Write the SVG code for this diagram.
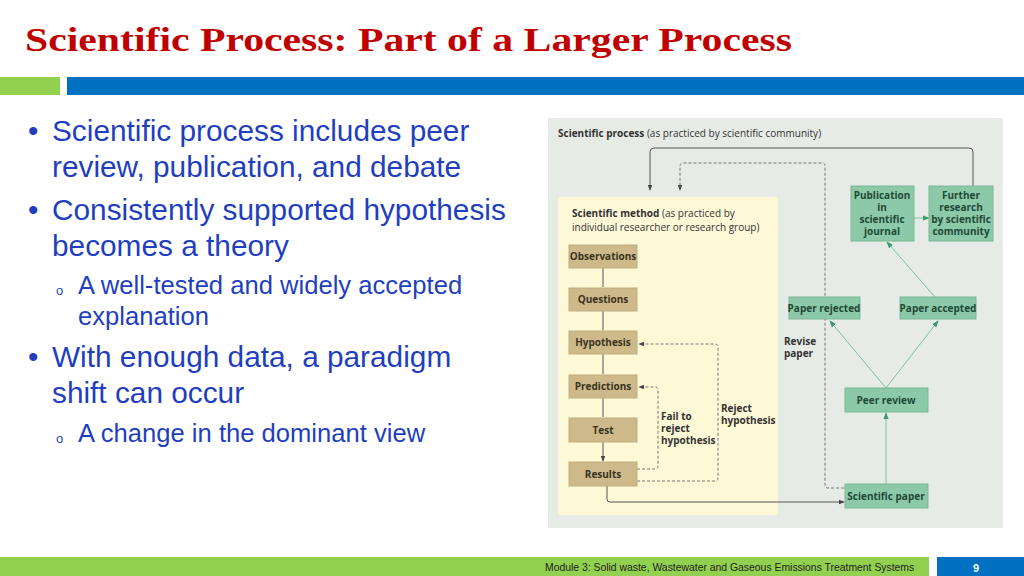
<svg xmlns="http://www.w3.org/2000/svg" width="1024" height="576" viewBox="0 0 1024 576">
<defs>
<style>
.b{font-family:"Liberation Sans",Arial,sans-serif;fill:#1f3fbf;font-size:29.8px}
.s{font-family:"Liberation Sans",Arial,sans-serif;fill:#1f3fbf;font-size:25.6px}
.o{font-family:"Liberation Sans",Arial,sans-serif;fill:#1f3fbf;font-size:13px}
.f{font-family:"Open Sans","Liberation Sans",sans-serif;font-size:10px;fill:#333}
.fb{font-family:"Open Sans","Liberation Sans",sans-serif;font-size:10px;fill:#333;font-weight:bold}
.tan{fill:#cdb98a;stroke:#bfae80}
.grn{fill:#8cc9a8;stroke:#7ab897}
.tl{font-family:"Open Sans","Liberation Sans",sans-serif;font-size:10px;font-weight:bold;fill:#3a3320;text-anchor:middle}
.gl{font-family:"Open Sans","Liberation Sans",sans-serif;font-size:10px;font-weight:bold;fill:#1f4a36;text-anchor:middle}
.k{fill:none;stroke:#555;stroke-width:1}
.d{fill:none;stroke:#777;stroke-width:1;stroke-dasharray:3,2}
.g{fill:none;stroke:#7cc0a0;stroke-width:1}
</style>
<marker id="a" viewBox="0 0 8 8" refX="7" refY="4" markerWidth="6" markerHeight="6" orient="auto" markerUnits="userSpaceOnUse"><path d="M0,1 L8,4 L0,7z" fill="#444"/></marker>
<marker id="ag" viewBox="0 0 8 8" refX="7" refY="4" markerWidth="7" markerHeight="7" orient="auto" markerUnits="userSpaceOnUse"><path d="M0,1 L8,4 L0,7z" fill="#3a9a6e"/></marker>
</defs>
<rect width="1024" height="576" fill="#fff"/>
<text x="25" y="51" font-family="Liberation Serif,serif" font-weight="bold" font-size="33" fill="#c00000" textLength="767" lengthAdjust="spacingAndGlyphs">Scientific Process: Part of a Larger Process</text>
<rect x="0" y="77" width="60" height="18" fill="#92d050"/>
<rect x="67" y="77" width="957" height="18" fill="#0070c0"/>
<g id="bullets">
<text class="b" x="28" y="141">•</text><text class="b" x="52" y="141">Scientific process includes peer</text>
<text class="b" x="52" y="177">review, publication, and debate</text>
<text class="b" x="28" y="220">•</text><text class="b" x="52" y="220">Consistently supported hypothesis</text>
<text class="b" x="52" y="256">becomes a theory</text>
<text class="o" x="56" y="295">o</text><text class="s" x="78" y="294">A well-tested and widely accepted</text>
<text class="s" x="78" y="325">explanation</text>
<text class="b" x="28" y="367">•</text><text class="b" x="52" y="367">With enough data, a paradigm</text>
<text class="b" x="52" y="403">shift can occur</text>
<text class="o" x="56" y="443">o</text><text class="s" x="78" y="442">A change in the dominant view</text>
</g>
<rect x="548" y="118" width="455" height="410" fill="#e6ebe6"/>
<rect x="558" y="197" width="220" height="318" fill="#fdf8d6"/>
<text x="558" y="137" class="f"><tspan class="fb">Scientific process</tspan> (as practiced by scientific community)</text>
<text x="572" y="217" class="f"><tspan class="fb">Scientific method</tspan> (as practiced by</text>
<text x="572" y="231" class="f">individual researcher or research group)</text>
<g id="connectors">
<path class="k" d="M603,268V287M603,311V330M603,354V374M603,398V417M603,442V461" marker-end="url(#a)"/>
<path class="k" d="M607,486V499Q607,502 610,502H844" marker-end="url(#a)"/>
<path class="d" d="M637,469H655Q658,469 658,466V390Q658,387 655,387H639" marker-end="url(#a)"/>
<path class="d" d="M637,481H715Q718,481 718,478V347Q718,344 715,344H639" marker-end="url(#a)"/>
<path class="k" d="M973,186V152Q973,148 969,148H654Q650,148 650,152V190" marker-end="url(#a)"/>
<path class="d" d="M844,488H828Q825,488 825,485V166Q825,163 822,163H683Q680,163 680,166V190" marker-end="url(#a)"/>
<path class="g" d="M886,484V413" marker-end="url(#ag)"/>
<path class="g" d="M886,388L830,321" marker-end="url(#ag)"/>
<path class="g" d="M886,388L938,321" marker-end="url(#ag)"/>
<path class="g" d="M935,297L887,242" marker-end="url(#ag)"/>
<path class="g" d="M914,218H929" marker-end="url(#ag)"/>
</g>
<g id="observations"><rect class="tan" x="569" y="245" width="68" height="23"/><text class="tl" x="603" y="260">Observations</text></g>
<g id="questions"><rect class="tan" x="569" y="288" width="68" height="23"/><text class="tl" x="603" y="303">Questions</text></g>
<g id="hypothesis"><rect class="tan" x="569" y="331" width="68" height="23"/><text class="tl" x="603" y="346">Hypothesis</text></g>
<g id="predictions"><rect class="tan" x="569" y="375" width="68" height="23"/><text class="tl" x="603" y="390">Predictions</text></g>
<g id="test"><rect class="tan" x="569" y="418" width="68" height="24"/><text class="tl" x="603" y="434">Test</text></g>
<g id="results"><rect class="tan" x="569" y="462" width="68" height="24"/><text class="tl" x="603" y="478">Results</text></g>
<g id="publication"><rect class="grn" x="851" y="186" width="63" height="55"/><text class="gl" x="882" y="199">Publication<tspan x="882" dy="12">in</tspan><tspan x="882" dy="12">scientific</tspan><tspan x="882" dy="12">journal</tspan></text></g>
<g id="further"><rect class="grn" x="929" y="186" width="64" height="55"/><text class="gl" x="961" y="199">Further<tspan x="961" dy="12">research</tspan><tspan x="961" dy="12">by scientific</tspan><tspan x="961" dy="12">community</tspan></text></g>
<g id="rejected"><rect class="grn" x="789" y="297" width="71" height="22"/><text class="gl" x="824" y="312">Paper rejected</text></g>
<g id="accepted"><rect class="grn" x="900" y="297" width="76" height="22"/><text class="gl" x="938" y="312">Paper accepted</text></g>
<g id="peer"><rect class="grn" x="845" y="388" width="83" height="24"/><text class="gl" x="886" y="404">Peer review</text></g>
<g id="paper"><rect class="grn" x="845" y="484" width="83" height="24"/><text class="gl" x="886" y="500">Scientific paper</text></g>
<text class="fb" x="784" y="345">Revise<tspan x="784" dy="12">paper</tspan></text>
<text class="fb" x="661" y="420">Fail to<tspan x="661" dy="12">reject</tspan><tspan x="661" dy="12">hypothesis</tspan></text>
<text class="fb" x="721" y="412">Reject<tspan x="721" dy="12">hypothesis</tspan></text>
<rect x="0" y="557" width="929" height="19" fill="#92d050"/>
<rect x="937" y="557" width="87" height="19" fill="#0070c0"/>
<text x="545" y="571" font-family="Liberation Sans,Arial,sans-serif" font-size="10.4" fill="#222">Module 3: Solid waste, Wastewater and Gaseous Emissions Treatment Systems</text>
<text x="976" y="572" font-family="Liberation Sans,Arial,sans-serif" font-size="11" font-weight="bold" fill="#fff" text-anchor="middle">9</text>
</svg>
